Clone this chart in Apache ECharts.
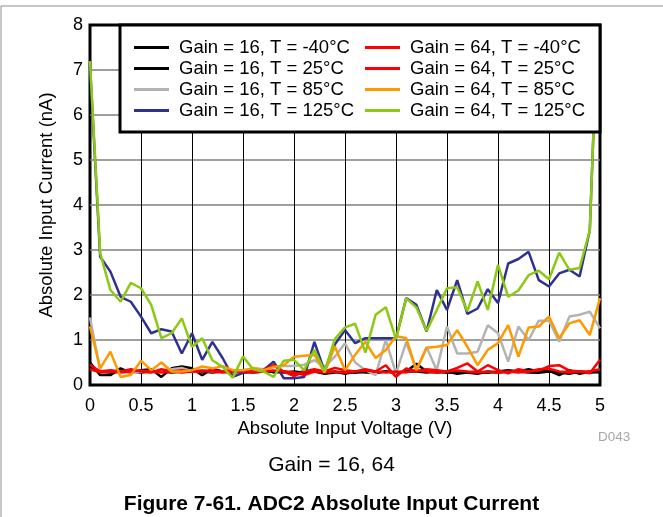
<!DOCTYPE html>
<html>
<head>
<meta charset="utf-8">
<script src="https://cdn.jsdelivr.net/npm/echarts@6/dist/echarts.min.js"></script>
<style>
  html, body { margin: 0; padding: 0; background: #fff; }
  #chart { width: 663px; height: 517px; }
</style>
</head>
<body>
<div id="chart"></div>
<script>
// voltage points (V)
var voltage = [0, 0.1, 0.2, 0.3, 0.4, 0.5, 0.6, 0.7, 0.8, 0.9, 1, 1.1, 1.2, 1.3, 1.4, 1.5, 1.6, 1.7, 1.8, 1.9,
  2, 2.1, 2.2, 2.3, 2.4, 2.5, 2.6, 2.7, 2.8, 2.9, 3, 3.1, 3.2, 3.3, 3.4, 3.5, 3.6, 3.7, 3.8, 3.9,
  4, 4.1, 4.2, 4.3, 4.4, 4.5, 4.6, 4.7, 4.8, 4.9, 5];

// current (nA) per setting
var g16_m40 = [0.5, 0.22, 0.22, 0.37, 0.27, 0.33, 0.35, 0.18, 0.37, 0.41, 0.37, 0.22, 0.36, 0.3, 0.32, 0.28, 0.3, 0.33, 0.28, 0.3,
  0.26, 0.3, 0.32, 0.28, 0.3, 0.25, 0.3, 0.28, 0.27, 0.3, 0.28, 0.3, 0.47, 0.3, 0.28, 0.3, 0.25, 0.28, 0.3, 0.27,
  0.3, 0.33, 0.3, 0.35, 0.3, 0.32, 0.22, 0.33, 0.25, 0.3, 0.28];
var g16_25 = [0.4, 0.3, 0.28, 0.3, 0.3, 0.28, 0.3, 0.3, 0.28, 0.3, 0.32, 0.3, 0.28, 0.3, 0.27, 0.3, 0.28, 0.3, 0.3, 0.28,
  0.3, 0.27, 0.3, 0.25, 0.28, 0.3, 0.27, 0.3, 0.28, 0.3, 0.27, 0.3, 0.3, 0.28, 0.3, 0.27, 0.3, 0.28, 0.25, 0.3,
  0.28, 0.3, 0.3, 0.28, 0.27, 0.3, 0.28, 0.25, 0.3, 0.27, 0.3];
var g16_85 = [1.5, 0.32, 0.3, 0.3, 0.28, 0.3, 0.28, 0.3, 0.35, 0.38, 0.3, 0.32, 0.3, 0.3, 0.28, 0.3, 0.38, 0.35, 0.4, 0.42,
  0.42, 0.45, 0.55, 0.4, 0.63, 0.93, 0.5, 0.33, 0.22, 1.0, 0.26, 0.95, 0.33, 0.84, 0.33, 1.3, 0.7, 0.7, 0.74, 1.33,
  1.15, 0.52, 1.3, 1.0, 1.43, 1.43, 0.96, 1.52, 1.56, 1.63, 1.26];
var g16_125 = [7.1, 2.85, 2.52, 1.96, 1.85, 1.52, 1.15, 1.24, 1.19, 0.7, 1.15, 0.56, 0.96, 0.6, 0.18, 0.27, 0.3, 0.33, 0.52, 0.15,
  0.15, 0.18, 0.96, 0.3, 0.9, 1.22, 0.93, 1.04, 1.04, 1.04, 1.04, 1.93, 1.78, 1.19, 2.11, 1.67, 2.33, 1.58, 1.7, 2.13,
  1.82, 2.7, 2.8, 2.96, 2.33, 2.19, 2.48, 2.56, 2.41, 3.44, 9.5];
var g64_m40 = [0.45, 0.3, 0.33, 0.3, 0.35, 0.3, 0.28, 0.35, 0.3, 0.33, 0.3, 0.3, 0.33, 0.3, 0.32, 0.3, 0.3, 0.33, 0.44, 0.3,
  0.2, 0.3, 0.35, 0.3, 0.38, 0.33, 0.3, 0.35, 0.3, 0.44, 0.18, 0.37, 0.3, 0.35, 0.33, 0.3, 0.38, 0.48, 0.3, 0.44,
  0.33, 0.26, 0.35, 0.3, 0.32, 0.42, 0.44, 0.32, 0.3, 0.26, 0.56];
var g64_25 = [0.35, 0.28, 0.3, 0.28, 0.3, 0.32, 0.3, 0.28, 0.3, 0.28, 0.3, 0.32, 0.3, 0.28, 0.3, 0.3, 0.28, 0.3, 0.32, 0.3,
  0.28, 0.22, 0.3, 0.28, 0.3, 0.27, 0.3, 0.32, 0.3, 0.28, 0.3, 0.28, 0.33, 0.3, 0.28, 0.3, 0.32, 0.3, 0.28, 0.3,
  0.27, 0.3, 0.28, 0.3, 0.35, 0.36, 0.3, 0.28, 0.3, 0.3, 0.35];
var g64_85 = [1.3, 0.37, 0.74, 0.18, 0.22, 0.54, 0.33, 0.5, 0.3, 0.3, 0.33, 0.41, 0.37, 0.42, 0.33, 0.33, 0.37, 0.33, 0.4, 0.44,
  0.63, 0.65, 0.67, 0.28, 0.86, 0.33, 0.67, 0.96, 0.6, 0.78, 1.09, 1.04, 0.33, 0.83, 0.85, 0.89, 1.22, 0.85, 0.44, 0.78,
  0.93, 1.33, 0.63, 1.28, 1.3, 1.52, 1.04, 1.37, 1.44, 1.11, 1.93];
var g64_125 = [7.2, 2.93, 2.11, 1.85, 2.27, 2.15, 1.78, 1.04, 1.15, 1.48, 0.85, 1.04, 0.55, 0.4, 0.16, 0.63, 0.35, 0.3, 0.18, 0.54,
  0.56, 0.33, 0.78, 0.3, 1.02, 1.28, 1.36, 0.72, 1.56, 1.73, 1.02, 1.93, 1.72, 1.2, 1.67, 2.15, 2.17, 1.64, 2.3, 1.67,
  2.67, 1.96, 2.1, 2.44, 2.54, 2.35, 2.94, 2.56, 2.6, 3.44, 9.5];

var names = [
  'Gain = 16, T = -40°C', 'Gain = 16, T = 25°C', 'Gain = 16, T = 85°C', 'Gain = 16, T = 125°C',
  'Gain = 64, T = -40°C', 'Gain = 64, T = 25°C', 'Gain = 64, T = 85°C', 'Gain = 64, T = 125°C'
];
var colors = ['#000000', '#000000', '#b3b3b3', '#2e3192', '#ff0000', '#ff0000', '#ff9900', '#8cc912'];
var allData = [g16_m40, g16_25, g16_85, g16_125, g64_m40, g64_25, g64_85, g64_125];

var font = 'Liberation Sans, Arial, sans-serif';

function pairs(arr) {
  return arr.map(function (v, i) { return [voltage[i], v]; });
}

var series = allData.map(function (arr, k) {
  return {
    name: names[k],
    type: 'line',
    data: pairs(arr),
    symbol: 'none',
    clip: true,
    color: colors[k],
    lineStyle: { width: 2.5, color: colors[k] }
  };
});

// two legend columns, plain line icons
var legendBase = {
  orient: 'vertical',
  top: 38,
  padding: 0,
  icon: 'rect',
  itemWidth: 35,
  itemHeight: 3,
  itemGap: 2,
  z: 10,
  textStyle: { fontFamily: font, fontSize: 18.5, color: '#000', padding: [0, 0, 0, 5] }
};

var chart = echarts.init(document.getElementById('chart'));
chart.setOption({
  animation: false,
  backgroundColor: '#fff',
  grid: {
    left: 90, right: 63, top: 25, bottom: 132,
    show: true, borderColor: '#000', borderWidth: 3, backgroundColor: 'transparent'
  },
  legend: [
    Object.assign({}, legendBase, { left: 134, data: names.slice(0, 4) }),
    Object.assign({}, legendBase, { left: 365, data: names.slice(4) })
  ],
  xAxis: {
    type: 'value', min: 0, max: 5, interval: 0.5,
    name: 'Absolute Input Voltage (V)',
    nameLocation: 'middle', nameGap: 34,
    nameTextStyle: { fontFamily: font, fontSize: 18.5, color: '#000' },
    axisLine: { show: false }, axisTick: { show: false },
    axisLabel: { fontFamily: font, fontSize: 18, color: '#000', margin: 12 },
    splitLine: { show: true, showMinLine: false, showMaxLine: false, lineStyle: { color: '#000', width: 1 } }
  },
  yAxis: {
    type: 'value', min: 0, max: 8, interval: 1,
    name: 'Absolute Input Current (nA)',
    nameLocation: 'middle', nameGap: 34,
    nameTextStyle: { fontFamily: font, fontSize: 18.5, color: '#000' },
    axisLine: { show: false }, axisTick: { show: false },
    axisLabel: { fontFamily: font, fontSize: 18, color: '#000', margin: 7 },
    splitLine: { show: true, showMinLine: false, showMaxLine: false, lineStyle: { color: '#7f7f7f', width: 1.5 } }
  },
  graphic: [
    // outer frame (top and left only)
    { type: 'polyline', shape: { points: [[1, 517], [1, 6], [663, 6]] }, style: { stroke: '#8c8c8c', lineWidth: 1, fill: null } },
    // legend box
    { type: 'rect', z: 5, shape: { x: 120, y: 25, width: 480, height: 107 }, style: { fill: '#fff', stroke: '#000', lineWidth: 3 } },
    { type: 'text', left: 598, top: 430, style: { text: 'D043', fontFamily: font, fontSize: 13.5, fill: '#a6a6a6' } },
    { type: 'text', left: 'center', top: 455, style: { text: 'Gain = 16, 64', fontFamily: font, fontSize: 21, fill: '#000' } },
    { type: 'text', left: 'center', top: 494, style: { text: 'Figure 7-61. ADC2 Absolute Input Current', fontFamily: font, fontSize: 21, fontWeight: 'bold', fill: '#000' } }
  ],
  series: series
});
</script>
</body>
</html>
